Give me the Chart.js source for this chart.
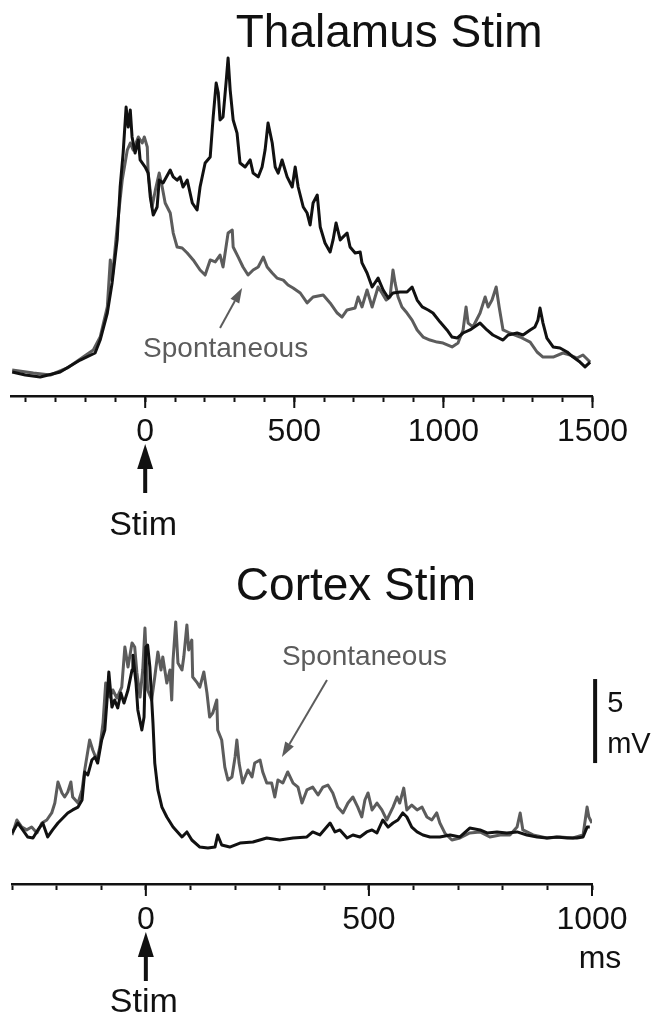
<!DOCTYPE html>
<html>
<head>
<meta charset="utf-8">
<script src="https://cdn.jsdelivr.net/npm/chart.js@4.4.1/dist/chart.umd.min.js"></script>
<style>
  body { margin: 0; background: #fff; width: 658px; height: 1016px; position: relative; overflow: hidden; }
  canvas { position: absolute; left: 0; }
  #thalamusChart { top: 0; }
  #cortexChart { top: 490px; }
</style>
</head>
<body>
<canvas id="thalamusChart" width="658" height="560"></canvas>
<canvas id="cortexChart" width="658" height="526"></canvas>
<script>
// time (ms) and membrane potential (mV, relative to rest)
var thalEvokedT = [-446,-402,-352,-285,-218,-168,-151,-127,-111,-94,-84,-74,-64,-57,-50,-44,-34,-23,-17,0,10,17,27,40,47,60,84,94,107,117,127,141,158,174,184,201,218,228,238,245,251,261,272,278,285,295,308,318,335,352,362,379,392,402,412,426,436,446,459,476,493,503,513,530,543,553,563,577,587,603,620,630,640,654,677,687,704,721,727,744,761,781,798,815,831,855,878,895,912,929,949,965,989,1012,1029,1046,1066,1089,1123,1146,1166,1200,1217,1247,1267,1291,1307,1317,1324,1334,1347,1368,1391,1415,1435,1458,1475,1492];
var thalEvokedV = [0.18,0,-0.12,0.18,0.89,1.31,2.08,3.69,5.48,8.04,11.19,13.21,15.95,14.76,15.77,14.17,13.21,13.99,12.8,12.38,12.02,10.6,9.52,10.0,11.6,11.43,12.2,11.79,11.6,11.79,11.19,11.6,10.24,9.82,11.19,12.62,12.98,15.36,17.38,16.79,15.18,15.36,17.56,18.87,16.96,15.18,14.4,12.62,12.38,12.8,12.02,11.79,12.38,13.39,15.0,13.81,12.38,12.02,12.8,11.79,11.19,12.38,11.19,10.0,9.64,8.93,10.24,10.71,8.81,7.86,7.32,8.04,9.05,8.04,8.45,7.62,7.26,7.32,6.67,6.07,5.24,5.77,5.06,4.58,4.88,4.94,4.94,5.24,4.46,4.05,3.87,3.69,3.15,2.68,2.26,2.2,2.5,2.68,3.09,2.68,2.38,2.08,2.38,2.5,2.38,2.68,2.86,3.27,3.99,3.09,2.2,1.67,1.61,1.37,1.07,0.77,0.48,0.77];
var thalSpontT = [-446,-375,-318,-261,-208,-174,-151,-127,-117,-111,-94,-77,-60,-50,-40,-23,-10,-3,7,10,23,34,47,57,67,84,94,107,124,141,161,184,201,218,235,251,261,278,292,295,312,328,345,362,379,396,409,426,442,463,479,496,520,543,563,597,620,644,660,677,704,714,727,744,761,781,794,808,821,831,838,848,861,878,895,912,932,955,979,999,1029,1049,1066,1076,1083,1099,1123,1140,1150,1163,1177,1187,1200,1223,1257,1291,1314,1334,1368,1401,1425,1448,1468,1485,1492];
var thalSpontV = [0.3,0.12,0,0.42,1.07,1.49,2.26,4.05,6.85,5.65,8.81,11.6,13.39,13.81,13.39,14.17,13.81,14.17,13.57,12.02,10.0,11.0,12.02,11.19,10.24,9.64,8.45,7.62,7.56,7.26,6.85,6.25,5.95,6.85,6.73,7.14,6.43,8.45,8.63,7.62,7.02,6.43,5.95,6.25,6.43,7.02,6.43,6.07,5.77,5.65,5.36,5.18,4.88,4.29,4.64,4.76,4.29,3.69,3.45,3.87,3.99,4.64,4.05,5.06,4.05,5.24,4.88,4.46,4.64,6.25,5.48,4.64,4.05,3.69,3.27,2.68,2.26,2.08,1.96,1.9,1.67,1.9,2.68,4.05,3.09,2.86,3.69,4.64,4.05,4.46,5.24,4.05,2.68,2.5,2.26,1.96,1.37,1.07,1.07,1.31,1.19,1.01,1.19,0.89,0.77];

var ctxEvokedT = [-300,-287,-276,-265,-253,-242,-231,-220,-209,-197,-186,-175,-164,-152,-143,-137,-130,-121,-114,-108,-99,-92,-87,-83,-76,-70,-63,-56,-49,-40,-31,-29,-22,-18,-9,-4,0,4,9,16,20,27,36,47,61,81,92,103,121,139,155,161,170,188,211,240,271,300,330,361,374,390,413,424,435,451,464,480,495,507,518,531,543,554,565,576,585,596,608,621,637,659,682,704,726,749,765,787,809,832,854,877,899,921,944,966,980,989,995];
var ctxEvokedV = [0.42,1.01,0.6,0.18,0.12,0.6,1.01,0.18,0.6,1.01,1.31,1.61,1.79,1.96,2.38,4.05,3.87,4.76,4.94,4.58,5.95,6.55,8.33,10.0,7.91,8.33,7.86,8.75,8.15,8.93,10.12,11.0,9.34,7.74,6.55,7.32,11.49,11.6,10.3,6.96,4.58,2.98,1.96,1.37,0.77,0.18,0.48,0,-0.42,-0.48,-0.42,0.3,-0.3,-0.42,-0.18,-0.12,0.12,0,0.12,0.18,0.48,0.3,1.01,0.48,0.6,0.12,0.3,0.18,0.48,0.6,0.42,1.19,0.77,1.01,1.19,1.61,1.37,0.77,0.48,0.3,0.18,0.18,0.3,0.18,0.71,0.6,0.42,0.48,0.42,0.48,0.3,0.18,0.12,0.18,0.12,0.12,0.18,0.77,0.77];
var ctxSpontT = [-300,-289,-278,-267,-256,-244,-233,-222,-211,-204,-197,-188,-182,-175,-168,-164,-152,-143,-137,-126,-119,-110,-103,-96,-90,-81,-74,-65,-54,-47,-40,-31,-25,-20,-13,-7,-2,4,13,20,27,34,38,47,54,58,61,67,72,81,85,92,96,103,105,114,121,130,137,143,150,159,161,170,177,184,193,200,204,209,217,229,238,244,256,262,271,282,289,296,307,318,330,341,350,361,374,386,397,408,419,430,442,453,464,475,484,491,498,507,518,529,540,554,563,569,578,585,596,608,619,630,641,652,659,670,686,704,726,749,771,794,816,832,839,845,868,899,928,957,980,989,993,1000];
var ctxSpontV = [0.3,1.19,0.77,0.6,0.77,0.42,1.01,1.19,1.61,2.2,3.45,2.8,2.56,2.86,3.45,2.56,2.2,2.98,4.17,5.95,5.36,4.76,5.53,6.96,9.34,8.51,8.93,8.45,9.1,11.49,10.3,11.73,11.49,9.94,8.51,10.12,12.62,8.93,8.33,9.7,11.19,10.12,10.89,9.34,10.12,8.33,10.71,12.98,10.53,10.12,10.89,12.8,11.31,11.9,9.7,9.4,9.1,10.0,8.75,7.32,7.56,8.33,6.55,5.95,4.34,3.57,3.75,4.94,5.95,4.58,3.39,4.17,3.75,4.58,4.76,4.05,3.39,3.39,2.56,3.57,3.39,4.05,3.39,3.15,2.2,2.98,3.15,2.68,3.15,3.27,2.8,1.96,1.61,2.2,2.56,1.96,1.37,2.38,2.8,1.79,2.2,1.79,1.19,1.96,2.56,2.2,3.09,1.79,2.08,1.79,1.96,1.37,1.19,1.61,1.01,0.42,0,0.12,0.42,0.48,0.18,0.3,0.3,0.77,1.61,0.6,0.3,0.12,0.18,0.12,0.3,1.96,1.37,1.01];

var majorEvery = 500;
var minorStep = 100;

function pts(ts, vs) {
    return ts.map(function (t, i) { return { x: t, y: vs[i] }; });
}

function fontOf(size) {
    return size + 'px "Liberation Sans", Arial, sans-serif';
}

function solidArrow(ctx, x1, y1, x2, y2, width, headLen, headW, color) {
    var ang = Math.atan2(y2 - y1, x2 - x1);
    var bx = x2 - Math.cos(ang) * headLen, by = y2 - Math.sin(ang) * headLen;
    ctx.strokeStyle = color; ctx.fillStyle = color; ctx.lineWidth = width;
    ctx.beginPath(); ctx.moveTo(x1, y1); ctx.lineTo(bx, by); ctx.stroke();
    ctx.beginPath();
    ctx.moveTo(x2, y2);
    ctx.lineTo(bx + Math.sin(ang) * headW / 2, by - Math.cos(ang) * headW / 2);
    ctx.lineTo(bx - Math.sin(ang) * headW / 2, by + Math.cos(ang) * headW / 2);
    ctx.closePath(); ctx.fill();
}

var panelNotes = {
    id: 'panelNotes',
    afterDraw: function (chart, args, o) {
        var ctx = chart.ctx, x = chart.scales.x, y = chart.scales.y;
        ctx.save();
        // longer ticks at the labelled values
        ctx.strokeStyle = '#111'; ctx.lineWidth = 2;
        x.ticks.forEach(function (t) {
            if (t.value % majorEvery === 0) {
                var px = x.getPixelForValue(t.value);
                ctx.beginPath(); ctx.moveTo(px, x.top); ctx.lineTo(px, x.top + 12); ctx.stroke();
            }
        });
        ctx.fillStyle = '#111'; ctx.textAlign = 'center'; ctx.textBaseline = 'alphabetic';
        ctx.font = fontOf(46);
        ctx.fillText(o.title, x.getPixelForValue(o.titleAt[0]), y.getPixelForValue(o.titleAt[1]));

        var sx = x.getPixelForValue(0);
        solidArrow(ctx, sx, x.top + 97, sx, x.top + 48, 4, 25, 16, '#111');
        ctx.fillStyle = '#111';
        ctx.font = fontOf(34);
        ctx.fillText('Stim', sx - 2, x.top + o.stimDrop);

        if (o.unit) {
            ctx.font = fontOf(32);
            ctx.fillText(o.unit, x.getPixelForValue(o.unitAt), x.top + 84);
        }

        ctx.fillStyle = '#5c5c5c'; ctx.textAlign = 'left'; ctx.font = fontOf(28);
        ctx.fillText('Spontaneous', x.getPixelForValue(o.spontLabel[0]), y.getPixelForValue(o.spontLabel[1]));
        solidArrow(ctx,
            x.getPixelForValue(o.spontArrow[0]), y.getPixelForValue(o.spontArrow[1]),
            x.getPixelForValue(o.spontArrow[2]), y.getPixelForValue(o.spontArrow[3]),
            2, 15, 10, '#5c5c5c');

        if (o.scaleBar) {
            var b = o.scaleBar, bx = x.getPixelForValue(b.t);
            ctx.strokeStyle = '#111'; ctx.lineWidth = 4;
            ctx.beginPath();
            ctx.moveTo(bx, y.getPixelForValue(b.from));
            ctx.lineTo(bx, y.getPixelForValue(b.from + b.size));
            ctx.stroke();
            ctx.fillStyle = '#111'; ctx.font = fontOf(29);
            ctx.fillText(String(b.size), x.getPixelForValue(b.textT), y.getPixelForValue(b.from + 3.04));
            ctx.fillText('mV', x.getPixelForValue(b.textT), y.getPixelForValue(b.from + 0.6));
        }
        ctx.restore();
    }
};

function traceChart(id, c) {
    return new Chart(document.getElementById(id).getContext('2d'), {
        type: 'line',
        data: {
            datasets: [{
                label: 'Evoked',
                data: c.evoked,
                borderColor: '#111',
                borderWidth: 3,
            }, {
                label: 'Spontaneous',
                data: c.spont,
                borderColor: '#5c5c5c',
                borderWidth: 3,
            }]
        },
        options: {
            responsive: false,
            animation: false,
            layout: { padding: { left: c.left, right: c.right, top: c.top, bottom: 0 } },
            elements: {
                point: { radius: 0 },
                line: { tension: 0, borderJoinStyle: 'round', fill: false }
            },
            plugins: {
                legend: { display: false },
                tooltip: { enabled: false },
                panelNotes: c.notes
            },
            scales: {
                x: {
                    type: 'linear',
                    min: c.xMin,
                    max: c.xMax,
                    afterFit: function (s) { s.height = c.axisHeight; },
                    border: { display: true, color: '#111', width: 2.5 },
                    grid: { drawOnChartArea: false, drawTicks: true, tickLength: 6, tickWidth: 2, tickColor: '#111' },
                    ticks: {
                        stepSize: minorStep,
                        includeBounds: false,
                        autoSkip: false,
                        maxRotation: 0,
                        padding: 11,
                        color: '#111',
                        font: { family: '"Liberation Sans", Arial, sans-serif', size: 32 },
                        callback: function (v) { return v % majorEvery === 0 ? String(v) : ''; }
                    }
                },
                y: { display: false, min: c.yMin, max: c.yMax }
            }
        },
        plugins: [panelNotes]
    });
}

var thalamusChart = traceChart('thalamusChart', {
    evoked: pts(thalEvokedT, thalEvokedV),
    spont: pts(thalSpontT, thalSpontV),
    xMin: -450, xMax: 1500,
    yMin: -1.25, yMax: 19.345,
    left: 11, right: 65.5, top: 50, axisHeight: 164,
    notes: {
        title: 'Thalamus Stim', titleAt: [818, 19.52],
        stimDrop: 139,
        spontLabel: [-7, 1.07],
        spontArrow: [251, 2.8, 325, 5.18]
    }
});

var cortexChart = traceChart('cortexChart', {
    evoked: pts(ctxEvokedT, ctxEvokedV),
    spont: pts(ctxSpontT, ctxSpontV),
    xMin: -300, xMax: 1000,
    yMin: -2.619, yMax: 13.69,
    left: 12, right: 66, top: 120, axisHeight: 132,
    notes: {
        title: 'Cortex Stim', titleAt: [471, 14.29],
        stimDrop: 128,
        unit: 'ms', unitAt: 1018,
        spontLabel: [305, 10.42],
        spontArrow: [406, 9.52, 305, 4.94],
        scaleBar: { t: 1007, from: 4.58, size: 5, textT: 1034 }
    }
});
</script>
</body>
</html>
